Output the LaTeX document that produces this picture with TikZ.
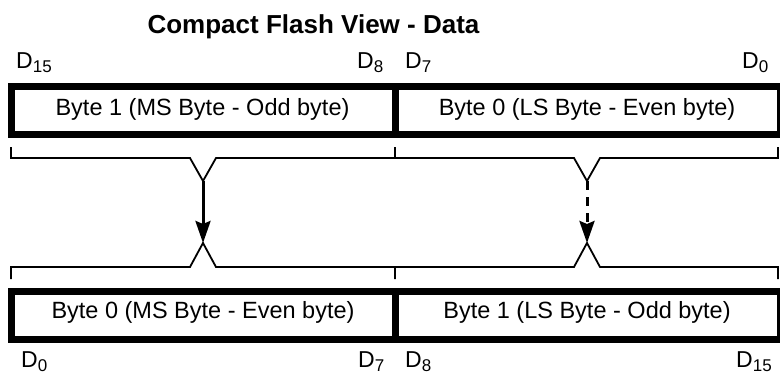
\documentclass[tikz,border=0pt]{standalone}
\usepackage{fontspec}
\setmainfont{Liberation Sans}
\usetikzlibrary{arrows.meta}
\newcommand\Dsub[1]{D\raisebox{-4.5pt}{\fontsize{17}{17}\selectfont #1}}
\begin{document}
\begin{tikzpicture}[x=1pt,y=-1pt,
  bytebox/.style={draw,line width=7pt,inner sep=0pt,minimum width=384.5pt,minimum height=48pt},
  bytetext/.style={anchor=base,inner sep=0pt,font=\fontsize{23.5}{23.5}\selectfont},
  dlabel/.style={anchor=base west,inner sep=0pt,font=\fontsize{23}{23}\selectfont},
  brack/.style={line width=1.8pt},
  conn/.style={line width=3pt,-{Stealth[length=22pt,width=15pt,inset=3pt]}}]
\useasboundingbox (0,0) rectangle (780,372);
% title
\node[anchor=base,inner sep=0pt,font=\fontsize{26}{26}\selectfont\bfseries] (title) at (313.5,33) {Compact Flash View - Data};
% top boxes
\node[bytebox] (tl) at (203.25,110.5) {};
\node[bytebox] (tr) at (587.75,110.5) {};
\node[bytetext] (tlt) at (202.5,115) {Byte 1 (MS Byte - Odd byte)};
\node[bytetext] (trt) at (587,115) {Byte 0 (LS Byte - Even byte)};
% bottom boxes
\node[bytebox] (bl) at (203.25,315) {};
\node[bytebox] (br) at (587.75,315) {};
\node[bytetext] (blt) at (203,318) {Byte 0 (MS Byte - Even byte)};
\node[bytetext] (brt) at (587,318) {Byte 1 (LS Byte - Odd byte)};
% top labels
\node[dlabel] (d15t) at (16,68) {\Dsub{15}};
\node[dlabel] (d8t) at (357,68) {\Dsub{8}};
\node[dlabel] (d7t) at (405,68) {\Dsub{7}};
\node[dlabel] (d0t) at (742,68) {\Dsub{0}};
% bottom labels
\node[dlabel] (d0b) at (21,367) {\Dsub{0}};
\node[dlabel] (d7b) at (358,367) {\Dsub{7}};
\node[dlabel] (d8b) at (405,367) {\Dsub{8}};
\node[dlabel] (d15b) at (736,367) {\Dsub{15}};
% bracket apexes
\coordinate (yl) at (203,181);
\coordinate (yr) at (587,181);
\coordinate (al) at (203,243);
\coordinate (ar) at (587,243);
% top brackets
\draw[brack] (11,147) -- (11,158) -- (190,158) -- (yl) -- (216,158) -- (395,158) -- (395,147);
\draw[brack] (395,158) -- (574,158) -- (yr) -- (600,158) -- (778,158) -- (778,147);
% bottom brackets
\draw[brack] (11,279) -- (11,267) -- (190,267) -- (al) -- (216,267) -- (395,267) -- (395,279);
\draw[brack] (395,267) -- (574,267) -- (ar) -- (600,267) -- (778,267) -- (778,279);
% connectors
\draw[conn] (yl) -- (al);
\draw[conn,dash pattern=on 9pt off 7pt] (yr) -- (ar);
\end{tikzpicture}
\end{document}
